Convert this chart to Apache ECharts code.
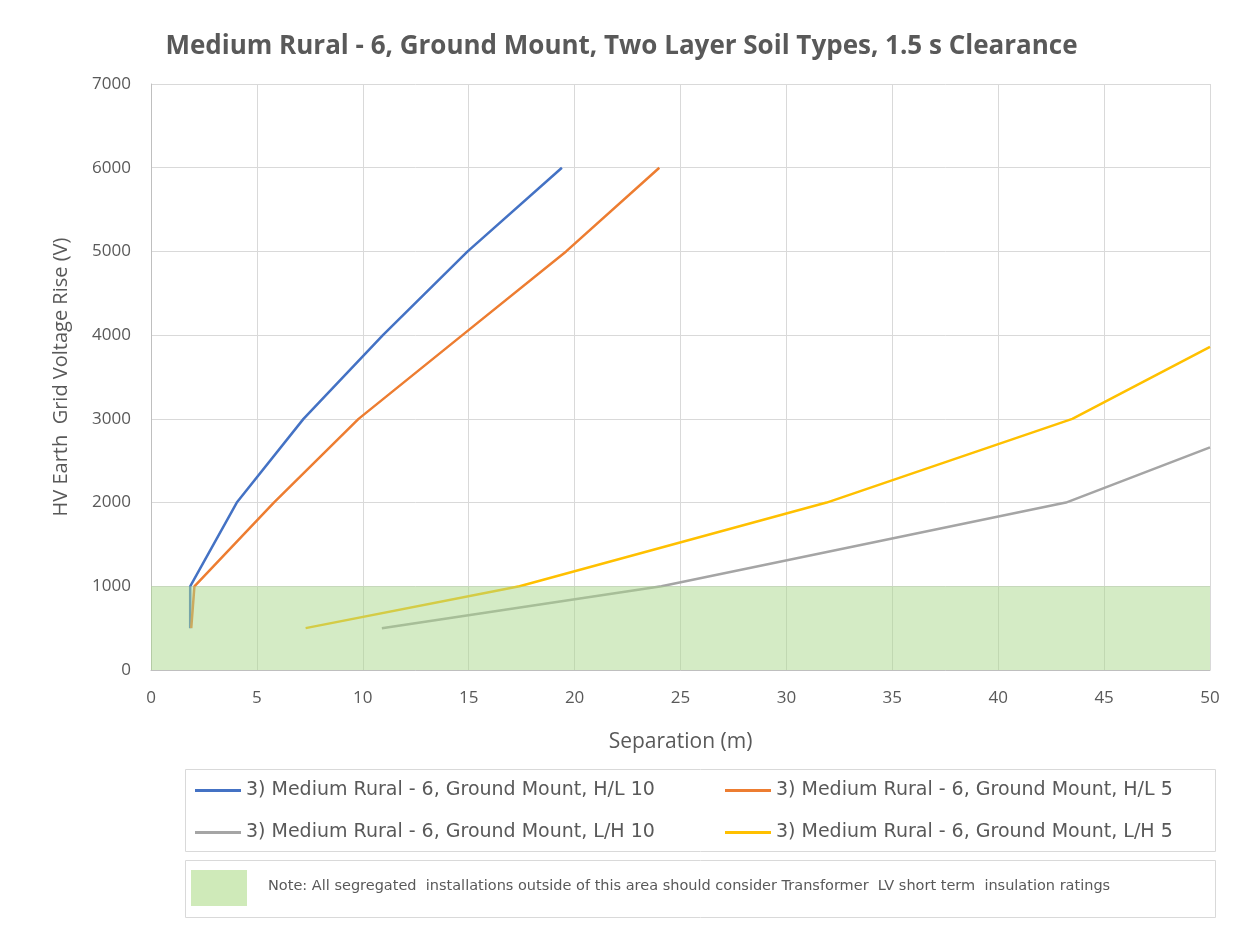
<!DOCTYPE html>
<html><head><meta charset="utf-8">
<script src="https://cdn.jsdelivr.net/npm/echarts@6/dist/echarts.min.js"></script>
<style>html,body{margin:0;padding:0;background:#fff}#c{width:1243px;height:927px}</style>
</head><body><div id="c"></div>
<script>
const title = "Medium Rural - 6, Ground Mount, Two Layer Soil Types, 1.5 s Clearance";
const seriesNames = [
  "3) Medium Rural - 6, Ground Mount, H/L 10",
  "3) Medium Rural - 6, Ground Mount, H/L 5",
  "3) Medium Rural - 6, Ground Mount, L/H 10",
  "3) Medium Rural - 6, Ground Mount, L/H 5"
];
const hl10 = [[1.85,500],[1.85,1000],[4.05,2000],[7.2,3000],[10.95,4000],[14.95,5000],[19.4,6000]];
const hl5  = [[1.9,500],[2.05,1000],[5.8,2000],[9.8,3000],[14.7,4000],[19.6,5000],[24.0,6000]];
const lh10 = [[10.9,500],[24.1,1000],[43.2,2000],[50,2660]];
const lh5  = [[7.3,500],[17.4,1000],[31.9,2000],[43.5,3000],[50,3860]];
const zoneLimit = [[0,1000],[50,1000]];
const noteText = "Note: All segregated  installations outside of this area should consider Transformer  LV short term  insulation ratings";
const colors = ["#4472C4","#ED7D31","#A5A5A5","#FFC000"];
const font = "'Open Sans', 'Liberation Sans', sans-serif";
const wfont = "'DejaVu Sans', sans-serif";
const txt = "#595959";

const chart = echarts.init(document.getElementById('c'));
const lineSeries = [hl10, hl5, lh10, lh5].map((d,i)=>({
  name: seriesNames[i], type:'line', data:d, showSymbol:false, symbol:'none',
  lineStyle:{color:colors[i], width:2.5}, itemStyle:{color:colors[i]}, z:2
}));
lineSeries.push({
  name:'zone', type:'line', data:zoneLimit, showSymbol:false, symbol:'none',
  lineStyle:{width:0}, areaStyle:{color:'rgb(169,216,140)', opacity:0.5, origin:'start'}, z:5, silent:true
});
const legendBase = {orient:'horizontal', itemWidth:46, itemHeight:3, icon:'rect',
  textStyle:{color:txt, fontSize:19, fontFamily:wfont}, itemGap:8};
chart.setOption({
  animation:false,
  title:{text:title, left:'center', top:29, textStyle:{color:txt, fontSize:26, fontWeight:'bold', fontFamily:font}},
  grid:{left:151, right:33, top:84, bottom:257},
  xAxis:{type:'value', min:0, max:50, interval:5,
    name:'Separation (m)', nameLocation:'middle', nameGap:62,
    nameTextStyle:{color:txt, fontSize:21, fontFamily:font},
    axisLine:{show:true, lineStyle:{color:'#bfbfbf'}}, axisTick:{show:false},
    axisLabel:{color:txt, fontSize:17, fontFamily:font, margin:20},
    splitLine:{show:true, lineStyle:{color:'#d9d9d9', width:1}}},
  yAxis:{type:'value', min:0, max:7000, interval:1000,
    name:'HV Earth  Grid Voltage Rise (V)', nameLocation:'middle', nameGap:80,
    nameTextStyle:{color:txt, fontSize:20, fontFamily:font},
    axisLine:{show:true, lineStyle:{color:'#bfbfbf'}}, axisTick:{show:false},
    axisLabel:{color:txt, fontSize:17, fontFamily:font, margin:20, formatter:(v)=>String(v)},
    splitLine:{show:true, lineStyle:{color:'#d9d9d9', width:1}}},
  legend:[
    Object.assign({}, legendBase, {data:[seriesNames[0]], left:190, top:776}),
    Object.assign({}, legendBase, {data:[seriesNames[1]], left:720, top:776}),
    Object.assign({}, legendBase, {data:[seriesNames[2]], left:190, top:818}),
    Object.assign({}, legendBase, {data:[seriesNames[3]], left:720, top:818})
  ],
  graphic:[
    {type:'rect', left:183, top:767, shape:{width:1030, height:82}, style:{fill:'none', stroke:'#d9d9d9', lineWidth:1}},
    {type:'rect', left:183, top:858, shape:{width:1030, height:57}, style:{fill:'none', stroke:'#d9d9d9', lineWidth:1}},
    {type:'rect', left:191, top:870, shape:{width:56, height:36}, style:{fill:'#cfeab9'}},
    {type:'text', left:268, top:879, style:{text:noteText, fill:txt, fontSize:14.5, fontFamily:wfont}}
  ],
  series: lineSeries
});
</script></body></html>
